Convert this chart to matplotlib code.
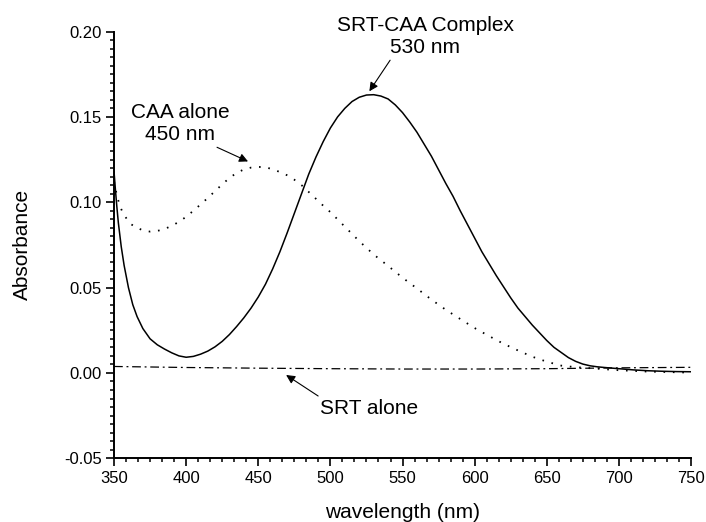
from matplotlib import pyplot as plt
from matplotlib.ticker import MultipleLocator, AutoMinorLocator, FormatStrFormatter

plt.rcParams['font.family'] = ['Liberation Sans', 'DejaVu Sans']

# SRT-CAA complex (solid)
wl_complex = [350, 351, 352, 353, 355, 357, 360, 363, 366, 370, 375, 380, 385, 390, 395,
              400, 405, 410, 415, 420, 425, 430, 435, 440, 445, 450, 455, 460, 465, 470,
              475, 480, 485, 490, 495, 500, 505, 510, 515, 520, 525, 530, 535, 540, 545,
              550, 555, 560, 565, 570, 575, 580, 585, 590, 595, 600, 605, 610, 615, 620,
              625, 630, 635, 640, 645, 650, 655, 660, 665, 670, 675, 680, 685, 690, 700,
              710, 720, 730, 740, 750]
abs_complex = [0.118, 0.107, 0.097, 0.088, 0.074, 0.063, 0.050, 0.040, 0.033, 0.026, 0.020,
               0.0165, 0.014, 0.0118, 0.0100, 0.0092, 0.0097, 0.0110, 0.0128, 0.0153, 0.0185,
               0.0225, 0.0272, 0.0323, 0.0380, 0.0445, 0.0520, 0.0610, 0.0710, 0.0820, 0.0935,
               0.105, 0.1165, 0.1265, 0.1355, 0.1435, 0.150, 0.155, 0.159, 0.1615, 0.1628,
               0.163, 0.1622, 0.1605, 0.157, 0.1525, 0.147, 0.141, 0.134, 0.127, 0.119, 0.111,
               0.1035, 0.095, 0.087, 0.079, 0.071, 0.064, 0.057, 0.0505, 0.044, 0.038, 0.033,
               0.028, 0.0235, 0.019, 0.015, 0.012, 0.009, 0.0068, 0.0052, 0.0042, 0.0036,
               0.0032, 0.0025, 0.0018, 0.0013, 0.0010, 0.0008, 0.0007]

# CAA alone (dotted)
wl_caa = [350, 352, 354, 356, 359, 362, 365, 370, 375, 380, 385, 390, 395, 400, 405, 410,
          415, 420, 425, 430, 435, 440, 445, 450, 455, 460, 465, 470, 475, 480, 485, 490,
          495, 500, 510, 520, 530, 540, 550, 560, 570, 580, 590, 600, 610, 620, 630, 640,
          650, 660, 670, 680, 690, 700, 720, 750]
abs_caa = [0.112, 0.104, 0.098, 0.094, 0.090, 0.087, 0.0855, 0.0835, 0.0828, 0.0832, 0.0843,
           0.0862, 0.0885, 0.0915, 0.095, 0.0987, 0.1025, 0.1065, 0.1105, 0.1142, 0.1172,
           0.1192, 0.1203, 0.1207, 0.1205, 0.1193, 0.1177, 0.1158, 0.1132, 0.110, 0.106,
           0.102, 0.098, 0.0942, 0.0857, 0.0772, 0.0694, 0.0627, 0.0558, 0.0495, 0.0430,
           0.0370, 0.0316, 0.0263, 0.0216, 0.0171, 0.0132, 0.0095, 0.0066, 0.0043, 0.0034,
           0.0028, 0.0022, 0.0016, 0.0008, 0.0002]

# SRT alone (dash-dot)
wl_srt = [350, 400, 450, 500, 550, 600, 650, 700, 750]
abs_srt = [0.0038, 0.0032, 0.0028, 0.0025, 0.0023, 0.0023, 0.0025, 0.0030, 0.0033]

fig = plt.figure(figsize=(7.06, 5.22), dpi=100)
ax = fig.add_axes([0.1615, 0.122, 0.8173, 0.8176])

ax.plot(wl_complex, abs_complex, color='k', lw=1.1)
ax.plot(wl_caa, abs_caa, color='k', lw=1.3, linestyle=(0, (0.9, 4.3)))
ax.plot(wl_srt, abs_srt, color='k', lw=0.9, linestyle=(0, (7, 3, 1.5, 3)))

ax.set_xlim(350, 750)
ax.set_ylim(-0.05, 0.20)
ax.xaxis.set_major_locator(MultipleLocator(50))
ax.xaxis.set_minor_locator(AutoMinorLocator(6))
ax.yaxis.set_major_locator(MultipleLocator(0.05))
ax.yaxis.set_minor_locator(AutoMinorLocator(10))
ax.yaxis.set_major_formatter(FormatStrFormatter('%.2f'))

for s in ['top', 'right']:
    ax.spines[s].set_visible(False)
for s in ['left', 'bottom']:
    ax.spines[s].set_linewidth(1.4)
ax.tick_params(which='major', direction='out', length=6, width=1.2, labelsize=12, pad=3)
ax.tick_params(which='minor', direction='out', length=3, width=1.1)

ax.set_xlabel('wavelength (nm)', fontsize=15)
ax.set_ylabel('Absorbance', fontsize=15)
ax.xaxis.set_label_coords(0.5, -0.105)
ax.yaxis.set_label_coords(-0.142, 0.5)

# labels and arrows
arrow = dict(arrowstyle='-|>', color='k', lw=0.8, mutation_scale=13, shrinkA=0, shrinkB=0)
ax.text(565.7, 0.1972, 'SRT-CAA Complex\n530 nm', fontsize=15, ha='center', va='center')
ax.annotate('', xy=(527, 0.165), xytext=(541.4, 0.1832), arrowprops=arrow)
ax.text(395.8, 0.1463, 'CAA alone\n450 nm', fontsize=15, ha='center', va='center')
ax.annotate('', xy=(442.9, 0.1239), xytext=(421.4, 0.1322), arrowprops=arrow)
ax.text(526.8, -0.021, 'SRT alone', fontsize=15, ha='center', va='center')
ax.annotate('', xy=(469.3, -0.0012), xytext=(491.5, -0.0135), arrowprops=arrow)

plt.savefig('out.png', dpi=100)
